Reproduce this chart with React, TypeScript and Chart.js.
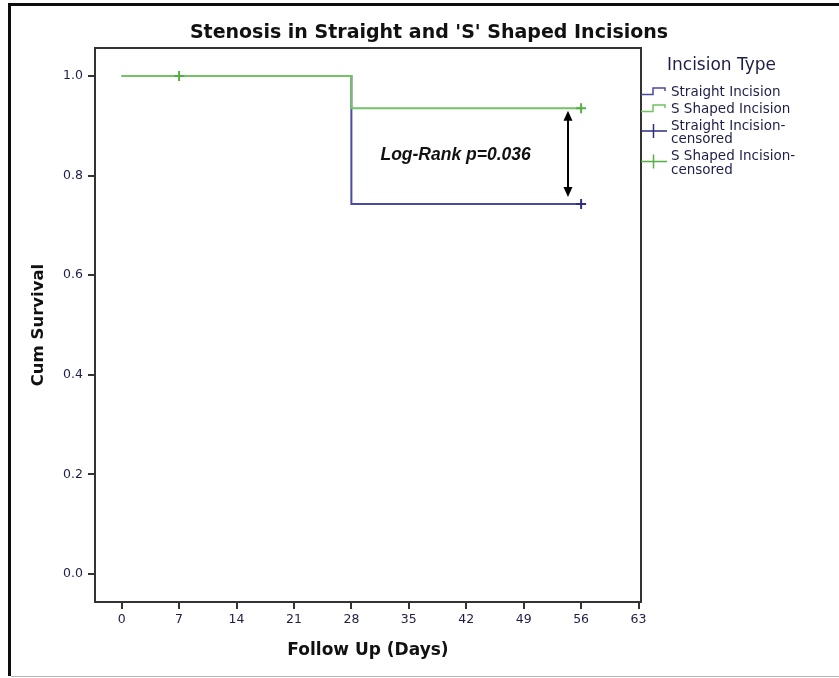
import React, { useEffect, useRef } from "react";
import { Chart, registerables } from "chart.js";

Chart.register(...registerables);

// ---- data ----
const TITLE = "Stenosis in Straight and 'S' Shaped Incisions";
const X_TITLE = "Follow Up (Days)";
const Y_TITLE = "Cum Survival";
const LEGEND_TITLE = "Incision Type";

const X_TICKS = [0, 7, 14, 21, 28, 35, 42, 49, 56, 63];
const Y_TICKS = [0, 0.2, 0.4, 0.6, 0.8, 1.0];

const STEP_DAYS = [0, 28, 56];
const STRAIGHT_SURVIVAL = [1.0, 0.743, 0.743];
const S_SHAPED_SURVIVAL = [1.0, 0.935, 0.935];

const STRAIGHT_CENSOR_DAYS = [56];
const STRAIGHT_CENSOR_SURVIVAL = [0.743];
const S_SHAPED_CENSOR_DAYS = [7, 56];
const S_SHAPED_CENSOR_SURVIVAL = [1.0, 0.935];

const SERIES_LABELS = [
  ["Straight Incision"],
  ["S Shaped Incision"],
  ["Straight Incision-", "censored"],
  ["S Shaped Incision-", "censored"],
];

const ANNOTATION_TEXT = "Log-Rank p=0.036";
const ANNOTATION_AT = [40.7, 0.84];
const ARROW_DAY = 54.4;
const ARROW_FROM_TO = [0.93, 0.757];

// ---- styles ----
const NAVY = "#4a4aa0";
const NAVY_DARK = "#2e2e82";
const GREEN = "#74c266";
const GREEN_DARK = "#55b043";
const TEXT_NAVY = "#1e1e48";
const AXIS = "#333333";
const FONT = "'DejaVu Sans', sans-serif";

const toPts = (xs: number[], ys: number[]) => xs.map((x, i) => ({ x, y: ys[i] }));

const decorPlugin = {
  id: "decor",
  beforeDatasetsDraw(chart: any) {
    const { ctx, chartArea: a } = chart;
    ctx.save();
    ctx.strokeStyle = AXIS;
    ctx.lineWidth = 2;
    ctx.strokeRect(a.left, a.top, a.right - a.left, a.bottom - a.top);
    ctx.restore();
  },
  afterDraw(chart: any) {
    const { ctx, chartArea: a, scales } = chart;
    const xs = scales.x;
    const ys = scales.y;
    ctx.save();
    // title
    ctx.fillStyle = "#111";
    ctx.font = `bold 19px ${FONT}`;
    ctx.textAlign = "center";
    ctx.textBaseline = "middle";
    ctx.fillText(TITLE, 429, 33);

    // annotation text
    ctx.font = `italic bold 17.5px 'Liberation Sans', sans-serif`;
    ctx.fillStyle = "#111";
    ctx.fillText(ANNOTATION_TEXT, xs.getPixelForValue(ANNOTATION_AT[0]), ys.getPixelForValue(ANNOTATION_AT[1]));

    // double arrow
    const ax = xs.getPixelForValue(ARROW_DAY);
    const y1 = ys.getPixelForValue(ARROW_FROM_TO[0]);
    const y2 = ys.getPixelForValue(ARROW_FROM_TO[1]);
    ctx.strokeStyle = "#000";
    ctx.fillStyle = "#000";
    ctx.lineWidth = 2;
    ctx.beginPath();
    ctx.moveTo(ax, y1 + 6);
    ctx.lineTo(ax, y2 - 6);
    ctx.stroke();
    ctx.beginPath();
    ctx.moveTo(ax, y1);
    ctx.lineTo(ax - 4.5, y1 + 10);
    ctx.lineTo(ax + 4.5, y1 + 10);
    ctx.closePath();
    ctx.fill();
    ctx.beginPath();
    ctx.moveTo(ax, y2);
    ctx.lineTo(ax - 4.5, y2 - 10);
    ctx.lineTo(ax + 4.5, y2 - 10);
    ctx.closePath();
    ctx.fill();

    // legend
    const lx = a.right;
    ctx.textAlign = "left";
    ctx.fillStyle = TEXT_NAVY;
    ctx.font = `17px ${FONT}`;
    ctx.fillText(LEGEND_TITLE, lx + 26, 66);
    ctx.font = `13.5px ${FONT}`;
    let y = 92;
    chart.data.datasets.forEach((ds: any, i: number) => {
      const lines = SERIES_LABELS[i];
      ctx.strokeStyle = ds.borderColor;
      ctx.lineWidth = 1.5;
      ctx.beginPath();
      if (ds.showLine === false) {
        const cy = y + 5;
        ctx.moveTo(lx, cy);
        ctx.lineTo(lx + 26, cy);
        ctx.moveTo(lx + 12.5, cy - 7);
        ctx.lineTo(lx + 12.5, cy + 7);
      } else {
        ctx.moveTo(lx, y + 2.5);
        ctx.lineTo(lx + 12, y + 2.5);
        ctx.lineTo(lx + 12, y - 4);
        ctx.lineTo(lx + 24, y - 4);
        ctx.lineTo(lx + 24, y - 1);
      }
      ctx.stroke();
      ctx.fillStyle = TEXT_NAVY;
      lines.forEach((t: string) => {
        ctx.fillText(t, lx + 30, y);
        y += 13.5;
      });
      y += 3.5;
    });
    ctx.restore();
  },
};

export default function App() {
  const ref = useRef<HTMLCanvasElement | null>(null);

  useEffect(() => {
    if (!ref.current) return;
    const chart = new Chart(ref.current, {
      type: "line",
      data: {
        datasets: [
          {
            label: SERIES_LABELS[0].join(""),
            data: toPts(STEP_DAYS, STRAIGHT_SURVIVAL),
            stepped: true,
            borderColor: NAVY,
            borderWidth: 2,
            pointRadius: 0,
            fill: false,
            order: 3,
          },
          {
            label: SERIES_LABELS[1].join(""),
            data: toPts(STEP_DAYS, S_SHAPED_SURVIVAL),
            stepped: true,
            borderColor: GREEN,
            borderWidth: 2,
            pointRadius: 0,
            fill: false,
            order: 2,
          },
          {
            label: SERIES_LABELS[2].join(""),
            data: toPts(STRAIGHT_CENSOR_DAYS, STRAIGHT_CENSOR_SURVIVAL),
            showLine: false,
            borderColor: NAVY_DARK,
            pointStyle: "cross",
            pointRadius: 5,
            pointBorderWidth: 2,
            pointBorderColor: NAVY_DARK,
            order: 1,
          },
          {
            label: SERIES_LABELS[3].join(""),
            data: toPts(S_SHAPED_CENSOR_DAYS, S_SHAPED_CENSOR_SURVIVAL),
            showLine: false,
            borderColor: GREEN_DARK,
            pointStyle: "cross",
            pointRadius: 5,
            pointBorderWidth: 2,
            pointBorderColor: GREEN_DARK,
            order: 0,
          },
        ],
      },
      options: {
        animation: false,
        responsive: false,
        events: [],
        layout: { padding: { top: 48, left: 0, right: 198, bottom: 0 } },
        plugins: {
          legend: { display: false },
          tooltip: { enabled: false },
          title: { display: false },
        },
        scales: {
          x: {
            type: "linear",
            min: -3.25,
            max: 63.3,
            afterFit: (s: any) => {
              s.height = 76;
            },
            afterBuildTicks: (s: any) => {
              s.ticks = X_TICKS.map((v) => ({ value: v }));
            },
            border: { display: false },
            grid: {
              display: true,
              drawOnChartArea: false,
              drawTicks: true,
              tickLength: 7,
              color: AXIS,
              lineWidth: 2,
            },
            ticks: {
              padding: 3,
              color: TEXT_NAVY,
              font: { family: FONT, size: 12.5 },
              maxRotation: 0,
              callback: (v: any) => String(v),
            },
            title: {
              display: true,
              text: X_TITLE,
              color: "#111",
              font: { family: FONT, size: 17, weight: "bold" },
              padding: { top: 0, bottom: 17 },
            },
          },
          y: {
            type: "linear",
            min: -0.056,
            max: 1.056,
            afterFit: (s: any) => {
              s.width = 95;
            },
            afterBuildTicks: (s: any) => {
              s.ticks = Y_TICKS.map((v) => ({ value: v }));
            },
            border: { display: false },
            grid: {
              display: true,
              drawOnChartArea: false,
              drawTicks: true,
              tickLength: 7,
              color: AXIS,
              lineWidth: 2,
            },
            ticks: {
              padding: 5,
              color: TEXT_NAVY,
              font: { family: FONT, size: 12.5 },
              callback: (v: any) => Number(v).toFixed(1),
            },
            title: {
              display: true,
              text: Y_TITLE,
              color: "#111",
              font: { family: FONT, size: 16.5, weight: "bold" },
              padding: { top: 29, bottom: 0 },
            },
          },
        },
      },
      plugins: [decorPlugin],
    } as any);
    return () => chart.destroy();
  }, []);

  return (
    <div
      style={{
        position: "fixed",
        left: 0,
        top: 0,
        width: 839,
        height: 678,
        overflow: "hidden",
        background: "#fff",
      }}
    >
      <div
        style={{
          position: "absolute",
          left: 8,
          top: 3,
          width: 900,
          height: 673,
          borderLeft: "3px solid #0d0d0d",
          borderTop: "3px solid #0d0d0d",
          boxSizing: "border-box",
        }}
      />
      <div
        style={{
          position: "absolute",
          left: 11,
          top: 676,
          width: 900,
          height: 1,
          background: "#b5b5b5",
        }}
      />
      <canvas
        ref={ref}
        width={839}
        height={678}
        style={{ position: "absolute", left: 0, top: 0, width: 839, height: 678 }}
      />
    </div>
  );
}
